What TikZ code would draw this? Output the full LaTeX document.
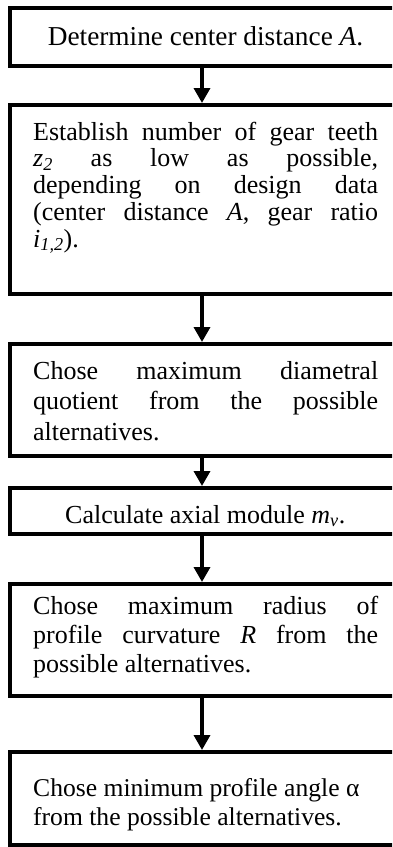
\documentclass[tikz,border=0pt]{standalone}
\usepackage{fontspec}
\setmainfont{Liberation Serif}
\usetikzlibrary{arrows.meta}
\tikzset{
  stepbox/.style={draw, line width=4pt, minimum width=390pt, inner sep=0pt, outer sep=2pt},
  arr/.style={line width=3.5pt, -{Triangle[width=16pt,length=15pt]}},
  txt/.style={inner sep=0pt, anchor=base west},
  ctxt/.style={inner sep=0pt, anchor=base}
}
\newcommand{\jl}[1]{\makebox[\linewidth][s]{#1}}
\newcommand{\fs}[1]{\fontsize{26}{#1}\selectfont}
\begin{document}
\begin{tikzpicture}[x=1pt, y=-1pt]
\useasboundingbox (0,0) rectangle (392,847);
\clip (0,0) rectangle (392,847);
\fill[white] (0,0) rectangle (392,847);
% boxes
\node[stepbox, minimum height=58pt]  (b1) at (205,37) {};
\node[stepbox, minimum height=189pt] (b2) at (205,199.5) {};
\node[stepbox, minimum height=112pt] (b3) at (205,400) {};
\node[stepbox, minimum height=46pt]  (b4) at (205,511) {};
\node[stepbox, minimum height=112pt] (b5) at (205,640) {};
\node[stepbox, minimum height=93pt]  (b6) at (205,798.5) {};
% texts
\node[ctxt] (t1) at (205.5,45) {\fontsize{27.3}{27}\selectfont Determine center distance \textit{A}.};
\node[txt] (t2) at (33,140) {\parbox[t]{345pt}{\fs{26.75}
\jl{Establish number of gear teeth}\\
\jl{\textit{z}\textsubscript{\textit{2}} as low as possible,}\\
\jl{depending on design data}\\
\jl{(center distance \textit{A}, gear ratio}\\
\textit{i}\textsubscript{\textit{1,2}}).}};
\node[txt] (t3) at (33,379) {\parbox[t]{345pt}{\fs{30.5}
\jl{Chose maximum diametral}\\
\jl{quotient from the possible}\\
alternatives.}};
\node[ctxt] (t4) at (202,523) {\fs{27} Calculate axial module \textit{m}\textsubscript{\textit{v}}.};
\node[txt] (t5) at (33,614) {\parbox[t]{345pt}{\fs{29}
\jl{Chose maximum radius of}\\
\jl{profile curvature \textit{R} from the}\\
possible alternatives.}};
\node[txt] (t6) at (33,796) {\parbox[t]{345pt}{\fontsize{25.6}{29}\selectfont
Chose minimum profile angle α\\
from the possible alternatives.}};
% arrows
\foreach \a/\b in {b1/b2, b2/b3, b3/b4, b4/b5, b5/b6}
  \draw[arr] ([xshift=-3pt]\a.south) -- ([xshift=-3pt]\b.north);
\end{tikzpicture}
\end{document}
